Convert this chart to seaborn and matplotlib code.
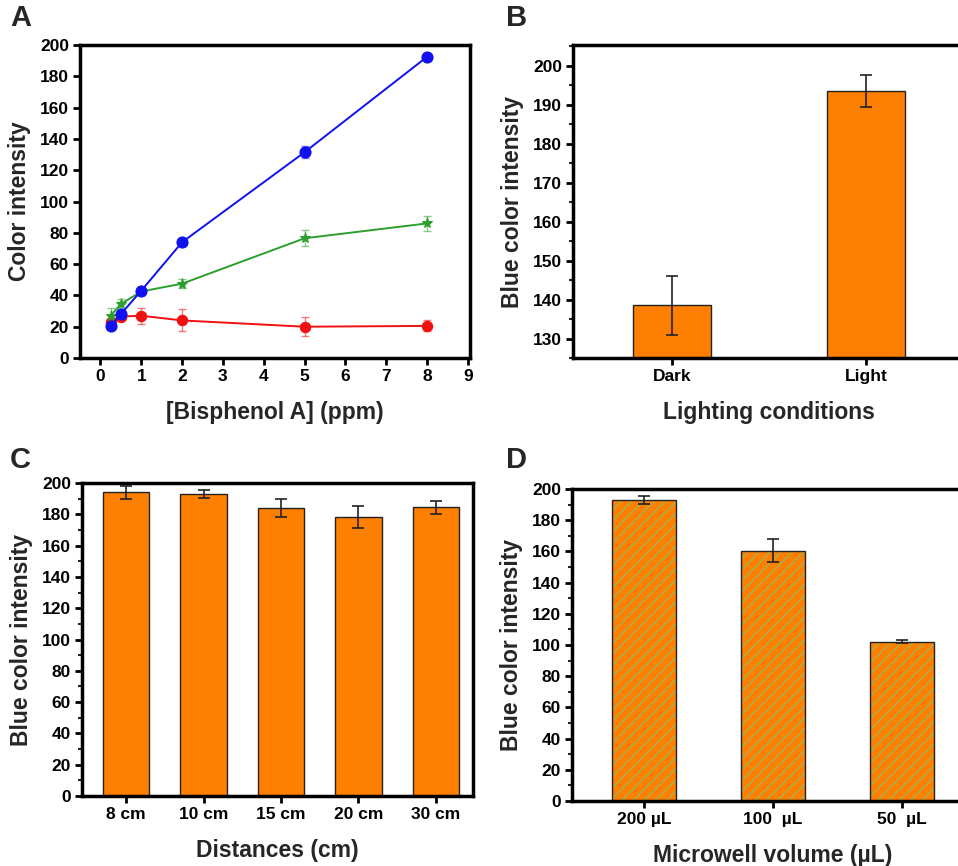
import matplotlib
matplotlib.use("Agg")
import matplotlib.pyplot as plt
from matplotlib.ticker import MultipleLocator
import seaborn as sns
import pandas as pd
import numpy as np

# ---- data ----
bpa_conc = [0.25, 0.5, 1, 2, 5, 8]
blue_val = [20.5, 28, 43, 74, 131.5, 192.5]
blue_err = [1.5, 1.5, 2, 1.5, 4, 1.5]
green_val = [27, 34.5, 42.5, 47.5, 76.5, 86]
green_err = [5, 3, 2.5, 3, 5, 5]
red_val = [23, 26.5, 27, 24, 20, 20.5]
red_err = [2, 2, 5, 7, 6, 3.5]

light_cond = ["Dark", "Light"]
light_val = [138.5, 193.5]
light_err = [7.5, 4]

dist_labels = ["8 cm", "10 cm", "15 cm", "20 cm", "30 cm"]
dist_val = [194, 193, 184, 178.5, 184.5]
dist_err = [4, 2.5, 6, 7, 4]

vol_labels = ["200 \u00b5L", "100  \u00b5L", "50  \u00b5L"]
vol_val = [193, 160.5, 102]
vol_err = [2.5, 7.5, 1]

ORANGE = "#FF8000"
HATCH_GREEN = "#95B860"

sns.set_theme(style="ticks")
plt.rcParams["font.family"] = ["Liberation Sans", "DejaVu Sans"]
plt.rcParams["font.weight"] = "bold"
plt.rcParams["hatch.linewidth"] = 0.9

W, H = 958, 866
fig = plt.figure(figsize=(W / 100, H / 100), dpi=100)


def px_axes(l, t, r, b):
    return fig.add_axes([l / W, 1 - b / H, (r - l) / W, (b - t) / H])


def style(ax, ylabel, xlabel):
    for s in ax.spines.values():
        s.set_linewidth(2.5)
        s.set_color("black")
    ax.tick_params(axis="both", which="major", direction="out", length=5, width=2,
                   labelsize=12.5, colors="black", pad=3)
    ax.tick_params(axis="both", which="minor", direction="out", length=3, width=1.5)
    for lab in ax.get_xticklabels() + ax.get_yticklabels():
        lab.set_fontweight("bold")
    ax.set_ylabel(ylabel, fontsize=16.5, fontweight="bold", labelpad=6)
    ax.set_xlabel(xlabel, fontsize=16.5, fontweight="bold", labelpad=12)


# ---- A ----
axA = px_axes(80, 45, 470, 358)
series_a = [(red_val, red_err, "#F01010", "o", 7.5),
            (green_val, green_err, "#2CA02C", "*", 8),
            (blue_val, blue_err, "#1010F0", "o", 8)]
for vals, errs, c, mk, ms in series_a:
    axA.errorbar(bpa_conc, vals, yerr=errs, fmt="none", ecolor=c, alpha=0.55,
                 elinewidth=1, capsize=3)
    sns.lineplot(x=bpa_conc, y=vals, color=c, marker=mk, markersize=ms,
                 markeredgecolor=c, linewidth=1.4, ax=axA)
axA.set_xlim(-0.5, 9.05)
axA.set_ylim(0, 200)
axA.xaxis.set_major_locator(MultipleLocator(1))
axA.yaxis.set_major_locator(MultipleLocator(20))
style(axA, "Color intensity", "[Bisphenol A] (ppm)")

# ---- B ----
axB = px_axes(573, 45, 965, 358)
sns.barplot(x=light_cond, y=light_val, color=ORANGE, width=0.4, saturation=1,
            edgecolor="#222222", linewidth=1, ax=axB)
axB.errorbar(range(len(light_cond)), light_val, yerr=light_err, fmt="none",
             ecolor="#222222", elinewidth=1.2, capsize=4, capthick=1.2)
axB.set_xlim(-0.51, 1.51)
axB.set_ylim(125, 205.3)
axB.yaxis.set_major_locator(MultipleLocator(10))
axB.yaxis.set_minor_locator(MultipleLocator(5))
style(axB, "Blue color intensity", "Lighting conditions")

# ---- C ----
axC = px_axes(82, 483, 473, 796)
sns.barplot(x=dist_labels, y=dist_val, color=ORANGE, width=0.6, saturation=1,
            edgecolor="#222222", linewidth=1, ax=axC)
axC.errorbar(range(len(dist_labels)), dist_val, yerr=dist_err, fmt="none",
             ecolor="#222222", elinewidth=1.2, capsize=4, capthick=1.2)
axC.set_xlim(-0.57, 4.48)
axC.set_ylim(0, 200)
axC.yaxis.set_major_locator(MultipleLocator(20))
axC.yaxis.set_minor_locator(MultipleLocator(10))
style(axC, "Blue color intensity", "Distances (cm)")

# ---- D ----
axD = px_axes(572, 489, 974, 801)
# hatch takes the edge colour, so draw the green-hatched fill first, black outline on top
sns.barplot(x=vol_labels, y=vol_val, color=ORANGE, width=0.5, saturation=1,
            edgecolor=HATCH_GREEN, linewidth=0, hatch="///", ax=axD)
sns.barplot(x=vol_labels, y=vol_val, color="#222222", width=0.5, saturation=1,
            fill=False, linewidth=1, ax=axD)
axD.errorbar(range(len(vol_labels)), vol_val, yerr=vol_err, fmt="none",
             ecolor="#222222", elinewidth=1.2, capsize=4, capthick=1.2)
axD.set_xlim(-0.56, 2.56)
axD.set_ylim(0, 200)
axD.yaxis.set_major_locator(MultipleLocator(20))
axD.yaxis.set_minor_locator(MultipleLocator(10))
style(axD, "Blue color intensity", "Microwell volume (\u00b5L)")

# panel letters
for letter, x, y in [("A", 10, 4), ("B", 506, 4), ("C", 10, 446), ("D", 506, 446)]:
    fig.text(x / W, 1 - y / H, letter, fontsize=21, fontweight="bold", va="top", ha="left")

fig.savefig("out.png", dpi=100)
